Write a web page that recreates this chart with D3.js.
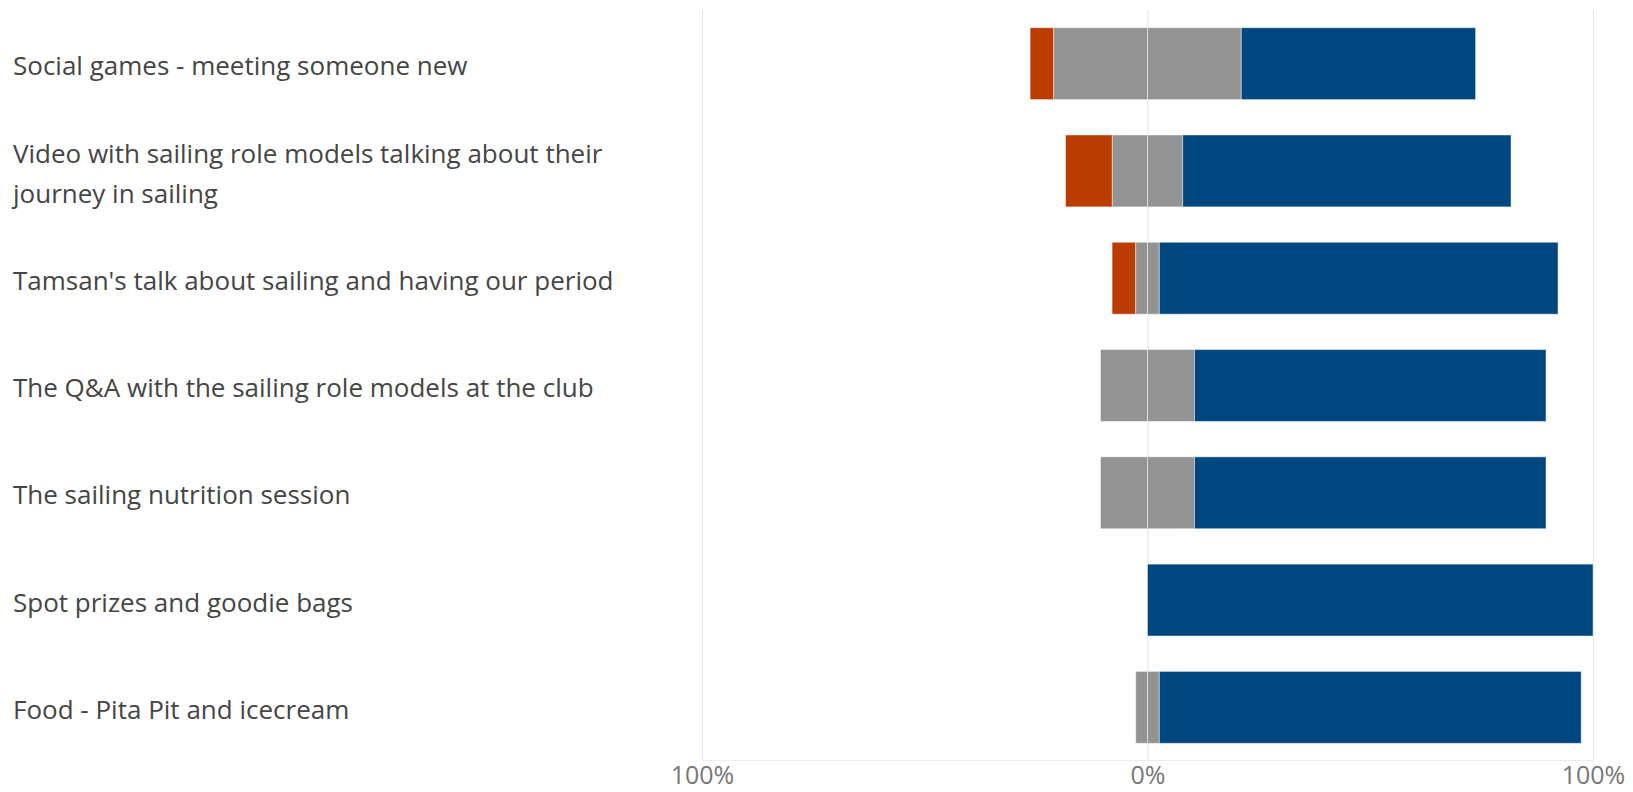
<!DOCTYPE html>
<html>
<head>
<meta charset="utf-8">
<script src="https://cdn.jsdelivr.net/npm/d3@7"></script>
<style>
  body { margin: 0; background: #fff; }
  text { font-family: "Open Sans", sans-serif; }
</style>
</head>
<body>
<svg id="chart" width="1633" height="792"></svg>
<script>
'use strict';

// survey items, top to bottom
var categories = [
  'Social games - meeting someone new',
  'Video with sailing role models talking about their journey in sailing',
  "Tamsan's talk about sailing and having our period",
  'The Q&A with the sailing role models at the club',
  'The sailing nutrition session',
  'Spot prizes and goodie bags',
  'Food - Pita Pit and icecream'
];

// percent of responses
var disagree = [5.3, 10.5, 5.3, 0, 0, 0, 0];
var neutral = [42.1, 15.8, 5.3, 21.1, 21.1, 0, 5.3];
var agree = [52.6, 73.7, 89.5, 78.9, 78.9, 100, 94.7];

var tickValues = [-100, 0, 100];
var tickLabels = ['100%', '0%', '100%'];

var colors = { disagree: '#bc3c00', neutral: '#939393', agree: '#00477f' };

var svg = d3.select('#chart');

var x = d3.scaleLinear().domain([-100, 100]).range([702, 1593]);
var y = d3.scaleBand().domain(categories).range([10, 761])
  .paddingInner(0.33).paddingOuter(0.165);

// gridlines
var grid = svg.append('g');
grid.selectAll('line.v').data(tickValues).enter().append('line')
  .attr('x1', function(d) { return x(d) + 0.5; })
  .attr('x2', function(d) { return x(d) + 0.5; })
  .attr('y1', 10).attr('y2', 760)
  .attr('stroke', '#e3e3e3').attr('stroke-width', 1);
grid.append('line')
  .attr('x1', x(-100)).attr('x2', x(100))
  .attr('y1', 760.5).attr('y2', 760.5)
  .attr('stroke', '#ececec');

// stacked segments around zero
var segs = [];
categories.forEach(function(c, i) {
  var h = neutral[i] / 2;
  segs.push({ c: c, x0: -h - disagree[i], x1: -h, k: 'disagree' });
  segs.push({ c: c, x0: -h, x1: 0, k: 'neutral' });
  segs.push({ c: c, x0: 0, x1: h, k: 'neutral' });
  segs.push({ c: c, x0: h, x1: h + agree[i], k: 'agree' });
});
segs = segs.filter(function(s) { return s.x1 - s.x0 > 0; });

svg.append('g').selectAll('rect').data(segs).enter().append('rect')
  .attr('x', function(d) { return x(d.x0); })
  .attr('width', function(d) { return x(d.x1) - x(d.x0); })
  .attr('y', function(d) { return y(d.c); })
  .attr('height', y.bandwidth())
  .attr('fill', function(d) { return colors[d.k]; })
  .attr('stroke', 'rgba(255,255,255,0.45)')
  .attr('stroke-width', 1);

// x axis
var axis = svg.append('g').attr('transform', 'translate(0,760)')
  .call(d3.axisBottom(x).tickValues(tickValues)
    .tickFormat(function(d, i) { return tickLabels[i]; })
    .tickSize(0).tickPadding(6));
axis.select('.domain').remove();
axis.selectAll('text')
  .style('font-family', '"Open Sans", sans-serif')
  .attr('font-size', 25).attr('fill', '#777');

// category labels, wrapped
var labels = svg.append('g');
categories.forEach(function(c) {
  var t = labels.append('text')
    .attr('x', 13)
    .attr('font-size', 26)
    .attr('fill', '#454545');
  var words = c.split(' '), lines = [], cur = '';
  var probe = t.append('tspan');
  words.forEach(function(w) {
    var test = cur ? cur + ' ' + w : w;
    probe.text(test);
    if (probe.node().getComputedTextLength() > 640 && cur) {
      lines.push(cur);
      cur = w;
    } else {
      cur = test;
    }
  });
  lines.push(cur);
  probe.remove();
  var mid = y(c) + y.bandwidth() / 2;
  lines.forEach(function(l, j) {
    t.append('tspan').attr('x', 13)
      .attr('y', mid + (j - (lines.length - 1) / 2) * 40)
      .attr('dy', '0.45em')
      .text(l);
  });
});
</script>
</body>
</html>
